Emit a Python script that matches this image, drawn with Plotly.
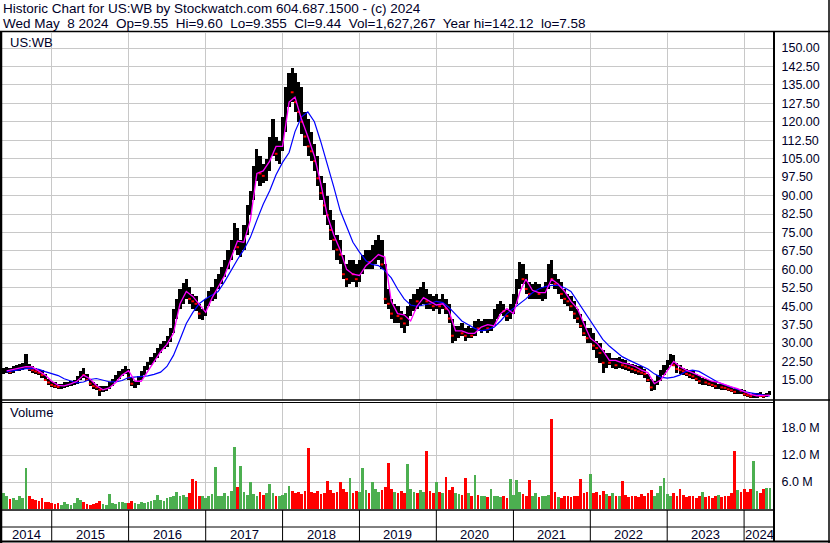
import pandas as pd
import plotly.graph_objects as go

# ---------------- data (semi-monthly periods, May 2014 - May 2024) ----------------
hi = [
    20.0, 20.3, 20.0, 20.5, 21.0, 21.5, 22.0, 25.5, 21.5, 20.5, 20.0, 19.5, 19.0, 17.5, 15.5,
    14.5, 14.0, 13.5, 13.5, 14.0, 14.0, 14.5, 15.0, 16.5, 18.5, 20.0, 17.5, 15.5, 14.0, 13.5, 12.5, 12.5, 12.5, 14.0, 15.5, 17.0, 18.5, 19.5, 20.5,
    19.5, 16.0, 14.5, 16.5, 18.5, 20.5, 22.5, 24.5, 26.0, 28.0, 29.5, 31.0, 33.0, 36.0, 44.0, 48.0, 52.0, 54.5, 56.0, 53.0, 50.0, 49.0, 46.0, 44.0,
    48, 51, 53, 56, 58, 61, 64, 68, 72, 79, 77, 72, 78, 86, 92, 102, 109, 106, 103, 105, 114, 121, 114, 112,
    122, 134, 140, 142, 140, 136, 134, 124, 121, 116, 111, 106, 98, 95, 90, 84, 80, 74, 72, 66, 62, 64, 64, 62,
    64, 66, 68, 68, 70, 72, 74, 72, 62, 52, 48, 46, 45, 43, 42, 45, 48, 50, 52, 53, 55, 52, 50, 49,
    50, 48, 50, 48, 46, 40, 37, 37, 38, 36, 37, 36, 39, 40, 39, 40, 40, 40, 44, 46, 47, 46, 44, 46,
    50, 56, 63, 62, 58, 55, 54, 55, 54, 53, 55, 62, 64, 58, 56, 55, 52, 50, 49, 47, 44, 42, 39, 36,
    36, 34, 31, 30, 27, 26, 26, 24, 24, 24.5, 23.5, 23, 22, 21.5, 21, 20.5, 20.5, 19.5, 17.5, 15.5, 14.5, 17, 19, 21,
    23, 25.5, 25, 22, 21, 20, 19.5, 19, 18.5, 17.5, 16.5, 16, 15.5, 15, 14.5, 14, 13.5, 13.5, 13, 12.5, 12, 11.5, 11.5, 11.5,
    11, 10, 9.5, 9.8, 9.8, 10, 9.5, 9.8, 10.5,
]
lo = [
    17.5, 17.8, 17.5, 18.0, 18.5, 18.5, 19.0, 19.5, 18.5, 18.0, 17.5, 17.0, 16.0, 14.5, 13.0,
    12.0, 11.8, 11.5, 11.5, 11.8, 12.0, 12.5, 13.0, 13.5, 15.0, 16.0, 14.5, 12.5, 11.5, 11.0, 8.5, 10.0, 10.5, 11.5, 12.5, 14.0, 15.5, 16.5, 17.5,
    15.0, 12.5, 11.8, 13.0, 15.0, 17.0, 19.0, 21.0, 22.5, 24.0, 26.0, 27.5, 28.5, 30.5, 34.0, 40.0, 44.0, 46.0, 48.0, 46.0, 44.0, 43.0, 40.0, 39.5,
    41, 45, 47, 48, 52, 54, 57, 60, 64, 68, 66, 65, 68, 74, 82, 88, 96, 94, 95, 96, 100, 106, 104, 103,
    108, 116, 126, 128, 124, 120, 115, 110, 106, 104, 100, 94, 88, 82, 78, 72, 68, 64, 62, 56, 53, 54, 55, 53,
    55, 58, 60, 60, 60, 62, 64, 60, 46, 44, 40, 38, 38, 36, 34, 37, 41, 43, 44, 45, 46, 44, 44, 43,
    44, 42, 44, 42, 38, 30, 31, 32, 33, 31, 32, 32, 33, 35, 34, 35, 34, 35, 37, 40, 42, 41, 39, 40,
    42, 46, 52, 54, 50, 48, 48, 48, 48, 47, 48, 52, 54, 52, 50, 48, 46, 45, 43, 40, 38, 36, 33, 30,
    30, 27, 24, 22, 18, 20, 21, 20, 19.5, 20, 19.5, 19, 18.5, 18, 17.5, 17, 17, 16, 14, 10.5, 11, 13, 14.5, 17,
    19, 21, 20.5, 18, 17.5, 17, 16.5, 16, 15.5, 14.5, 13.5, 13, 13, 12.5, 12, 11.5, 11.5, 11, 11, 10.5, 10, 9.5, 9.5, 9.5,
    8.5, 8.0, 7.6, 7.8, 7.8, 8.0, 7.8, 8.0, 8.8,
]
cl = [
    18.5, 19.0, 18.2, 19.5, 19.8, 20.0, 20.5, 21.0, 19.5, 19.0, 18.5, 18.0, 17.0, 15.0, 14.0,
    13.0, 12.5, 12.2, 12.5, 13.0, 13.2, 13.8, 14.2, 15.5, 17.5, 17.0, 15.0, 13.5, 12.5, 12.0, 11.0, 11.5, 11.8, 13.0, 14.5, 16.0, 17.5, 18.5, 19.0,
    16.0, 13.5, 13.5, 15.5, 17.5, 19.5, 21.5, 23.5, 25.0, 27.0, 28.5, 29.5, 31.5, 35.0, 42.0, 46.0, 49.0, 51.0, 52.0, 48.0, 47.0, 46.0, 42.0, 42.5,
    46, 49, 50, 54, 55, 59, 62, 66, 70, 74, 69, 70, 76, 84, 90, 100, 104, 99, 98, 101, 110, 112, 107, 108,
    118, 130, 136, 132, 128, 124, 120, 114, 110, 108, 104, 97, 91, 86, 82, 76, 72, 68, 66, 58, 56, 60, 58, 56,
    60, 62, 64, 63, 66, 68, 70, 62, 48, 46, 42, 42, 41, 40, 38, 43, 45, 48, 47, 50, 52, 47, 46, 45,
    47, 45, 46, 44, 40, 33, 34, 35, 34, 33, 34, 33, 37, 36, 37, 38, 36, 37, 42, 44, 45, 43, 41, 44,
    48, 54, 58, 56, 52, 50, 51, 52, 50, 50, 53, 58, 56, 54, 54, 50, 48, 47, 45, 42, 40, 37, 34, 32,
    33, 29, 28, 26, 22, 24, 22, 22, 21, 22, 21, 20.5, 20, 19.5, 19, 18.5, 18, 17.5, 15, 12, 13.5, 15.5, 18, 20,
    22, 23.5, 21, 19.5, 19, 18.5, 17.5, 17, 16.5, 15.5, 14.5, 14.5, 14, 13.5, 13, 12.5, 12.5, 12, 11.8, 11.2, 10.8, 10.2, 10.8, 10.5,
    9.2, 8.8, 8.4, 8.6, 9.0, 8.5, 8.4, 9.0, 9.44,
]
vol_m = [
    3.5, 2.8, 2.2, 2.5, 2.0, 3.0, 2.4, 9.2, 3.0, 2.2, 2.0, 1.8, 2.5, 1.6, 1.5,
    1.4, 1.2, 1.3, 1.0, 1.5, 1.2, 1.0, 1.3, 2.4, 2.0, 1.5, 1.2, 1.0, 1.1, 1.3, 1.8, 1.2, 1.0, 3.3, 1.4, 1.2, 1.5, 1.6, 1.3,
    1.4, 1.8, 1.3, 1.2, 1.5, 1.3, 1.6, 1.8, 2.0, 3.2, 2.0, 1.8, 2.4, 2.6, 3.0, 3.8, 2.8, 3.2, 2.6, 3.5, 6.6, 6.3, 3.0, 2.8,
    2.5, 3.0, 3.4, 9.4, 3.0, 2.8, 3.5, 2.8, 4.0, 13.8, 5.0, 9.6, 3.8, 3.2, 6.0, 3.4, 3.0, 3.8, 3.2, 3.5, 5.6, 3.6, 2.8, 3.0,
    3.2, 3.5, 5.2, 4.0, 3.5, 3.8, 3.4, 4.0, 13.6, 3.8, 3.6, 4.0, 3.4, 3.6, 6.3, 4.2, 3.5, 3.8, 5.9, 4.4, 3.8, 6.8, 3.6, 4.0,
    3.8, 9.1, 4.2, 3.6, 6.1, 4.5, 3.8, 4.2, 4.8, 10.3, 4.5, 3.8, 3.5, 4.0, 3.6, 10.0, 4.4, 3.8, 3.6, 4.2, 3.8, 12.9, 4.0, 3.6,
    5.9, 3.8, 3.5, 7.2, 4.2, 4.8, 3.6, 3.4, 3.2, 6.8, 3.5, 3.0, 7.6, 3.2, 2.8, 3.0, 2.6, 4.4, 2.8, 3.0, 2.6, 2.8, 2.5, 6.6,
    3.2, 6.5, 3.8, 3.4, 3.0, 6.5, 2.8, 3.5, 2.6, 2.8, 3.0, 3.2, 20.0, 3.8, 2.6, 2.5, 3.0, 2.8, 2.6, 3.0, 2.8, 6.6, 3.5, 3.8,
    7.7, 3.5, 3.8, 3.2, 4.0, 3.4, 3.0, 3.6, 2.8, 3.0, 6.2, 3.2, 2.6, 2.8, 3.0, 2.6, 3.4, 2.8, 3.5, 4.2, 3.0, 3.6, 5.2, 6.8,
    3.4, 3.0, 3.6, 2.8, 4.5, 3.2, 2.6, 2.8, 3.0, 2.5, 2.8, 3.8, 2.6, 3.0, 2.4, 2.8, 3.2, 2.6, 3.0, 2.8, 3.5, 12.9, 4.2, 3.8,
    4.5, 3.8, 4.4, 10.6, 4.0, 3.6, 4.4, 4.7, 4.7,
]
# monthly moving-average readings (1st of month, Jun 2014 - May 2024)
ma_short = [
    18.7, 19.2, 19.8, 20.4, 20.3, 18.8, 17.0,
    14.5, 12.8, 12.6, 13.4, 14.5, 17.0, 15.5, 12.8, 11.0, 11.8, 14.0, 17.0,
    18.8, 14.5, 14.5, 18.5, 22.5, 26.5, 29.5, 34.0, 46.0, 51.0, 49.0, 46.0,
    42.5, 48.5, 53.0, 57.5, 64.5, 71.5, 71.0, 80.0, 99.0, 100.0, 104.0, 110.0,
    110.0, 128.0, 130.0, 121.0, 114.0, 106.0, 95.0, 82.0, 74.0, 68.0, 60.0, 58.0,
    57.5, 61.5, 63.5, 66.0, 65.0, 47.0, 42.0, 41.5, 39.0, 45.0, 48.5, 47.0,
    45.5, 46.0, 43.0, 35.0, 35.0, 34.0, 34.0, 36.5, 37.5, 37.0, 42.0, 44.0,
    42.0, 51.0, 56.0, 51.5, 50.5, 50.5, 56.0, 54.0, 51.0, 47.0, 44.0, 38.0,
    32.0, 30.0, 27.0, 23.0, 23.0, 22.0, 21.5, 20.5, 19.0, 18.0, 13.5, 15.0,
    19.0, 22.5, 20.5, 19.0, 18.0, 16.8, 15.5, 14.5, 14.0, 13.0, 12.2, 11.5,
    10.5, 9.2, 8.6, 8.8, 8.8,
]
ma_long = [
    18.3, 18.8, 19.2, 19.6, 19.7, 19.3, 18.4,
    17.7, 16.8, 15.5, 14.5, 13.8, 14.2, 15.2, 15.6, 15.0, 14.3, 14.2, 14.8,
    16.0, 16.3, 16.4, 16.7, 17.3, 18.2, 20.5, 25.0, 31.5, 38.0, 42.5, 46.0,
    48.0, 49.5, 51.0, 55.0, 59.5, 64.0, 68.0, 73.0, 80.0, 86.5, 92.0, 98.5,
    103.5, 107.5, 116.0, 122.0, 124.0, 120.0, 112.0, 103.0, 93.5, 84.0, 77.0, 71.0,
    67.0, 63.5, 62.0, 61.5, 59.5, 56.5, 52.0, 48.0, 45.5, 45.0, 45.5, 46.0,
    47.0, 46.5, 44.5, 41.5, 39.0, 37.5, 36.0, 35.0, 35.5, 36.5, 39.0, 42.0,
    44.0, 46.0, 48.0, 50.5, 52.0, 53.0, 53.5, 53.5, 52.5, 51.0, 47.0, 43.0,
    39.0, 35.0, 31.5, 28.8, 26.5, 24.5, 23.2, 22.0, 20.8, 19.5, 17.5, 16.2,
    15.8, 16.2, 17.0, 18.5, 19.0, 18.5, 17.0, 15.5, 14.0, 13.0, 12.0, 11.2,
    10.3, 9.8, 9.3, 8.8, 8.4,
]
years = ["2014", "2015", "2016", "2017", "2018", "2019", "2020", "2021", "2022", "2023", "2024"]
price_ticks = [15.0, 22.5, 30.0, 37.5, 45.0, 52.5, 60.0, 67.5, 75.0, 82.5, 90.0, 97.5,
               105.0, 112.5, 120.0, 127.5, 135.0, 142.5, 150.0]
vol_ticks = [6, 12, 18]

# ---------------- derived positions ----------------
n = len(cl)
edges = pd.date_range("2014-05-10", "2024-05-10", periods=n + 1)
dates = edges[:-1] + (edges[1:] - edges[:-1]) / 2
ma_dates = pd.date_range("2014-06-01", "2024-05-01", freq="MS")
x0, x1 = pd.Timestamp("2014-05-10"), pd.Timestamp("2024-05-22")
bounds = [pd.Timestamp(f"{y}-01-01") for y in years[1:]]
seg_edges = [x0] + bounds + [x1]
year_mid = [seg_edges[k] + (seg_edges[k + 1] - seg_edges[k]) / 2 for k in range(len(years))]

W, H = 830, 543
px = lambda v: v / W
py = lambda v: 1 - v / H

bar_w = 15.2 * 86400000
vbar_w = 13.0 * 86400000
down = [i for i in range(n) if i > 0 and cl[i] < cl[i - 1]]
up_flag = [i == 0 or cl[i] >= cl[i - 1] for i in range(n)]
GREEN, RED = "#4caf50", "#ff0000"

fig = go.Figure()
fig.add_trace(go.Bar(x=dates, y=[h - l for h, l in zip(hi, lo)], base=lo, width=bar_w,
                     marker=dict(color="#000000", line=dict(width=0)), xaxis="x", yaxis="y",
                     hoverinfo="skip"))
fig.add_trace(go.Scatter(x=[dates[i] for i in down], y=[cl[i] for i in down], mode="markers",
                         marker=dict(symbol="line-ew", size=2, line=dict(color=RED, width=2)),
                         xaxis="x", yaxis="y", hoverinfo="skip"))
fig.add_trace(go.Scatter(x=ma_dates, y=ma_long, mode="lines", line=dict(color="#0000ff", width=1.2),
                         xaxis="x", yaxis="y", hoverinfo="skip"))
fig.add_trace(go.Scatter(x=ma_dates, y=ma_short, mode="lines", line=dict(color="#ff00ff", width=1.3),
                         xaxis="x", yaxis="y", hoverinfo="skip"))
fig.add_trace(go.Bar(x=dates, y=vol_m, width=vbar_w,
                     marker=dict(color=[GREEN if u else RED for u in up_flag], line=dict(width=0)),
                     xaxis="x2", yaxis="y2", hoverinfo="skip"))

FONT = "Liberation Sans, Arial, sans-serif"
TXT = "#000028"
grid = "#c8c8c8"
xdom = [px(2), px(774)]
common_x = dict(domain=xdom, range=[x0, x1], type="date", tickvals=bounds, showgrid=True,
                gridcolor=grid, gridwidth=1, showticklabels=False, ticks="", zeroline=False,
                showline=False)
fig.update_layout(
    width=W, height=H, margin=dict(l=0, r=0, t=0, b=0), showlegend=False,
    paper_bgcolor="white", plot_bgcolor="white", bargap=0,
    font=dict(family=FONT, color=TXT),
    xaxis=dict(anchor="y", **common_x),
    xaxis2=dict(anchor="y2", matches="x", **common_x),
    yaxis=dict(domain=[py(400), py(33)], range=[6.87, 156.1], side="right", anchor="x",
               tickvals=price_ticks, ticktext=[f"{v:.2f}" for v in price_ticks],
               showgrid=True, gridcolor=grid, gridwidth=1, zeroline=False, showline=False,
               ticks="outside", ticklen=4, tickcolor="rgba(0,0,0,0)",
               tickfont=dict(size=12.5, color=TXT, family=FONT)),
    yaxis2=dict(domain=[py(509), py(403)], range=[0, 106 / 4.5], side="right", anchor="x2",
                tickvals=vol_ticks, ticktext=[f"{v:.1f} M" for v in vol_ticks],
                showgrid=True, gridcolor=grid, gridwidth=1, zeroline=False, showline=False,
                ticks="outside", ticklen=4, tickcolor="rgba(0,0,0,0)",
                tickfont=dict(size=12.5, color=TXT, family=FONT)),
)

shapes = []
def hline(y, xa, xb, w=1):
    shapes.append(dict(type="line", xref="paper", yref="paper", x0=px(xa), x1=px(xb),
                       y0=py(y), y1=py(y), line=dict(color="black", width=w)))
def vline(x, ya, yb, w=1):
    shapes.append(dict(type="line", xref="paper", yref="paper", x0=px(x), x1=px(x),
                       y0=py(ya), y1=py(yb), line=dict(color="black", width=w)))

hline(31.5, 0, 830, 1.5)
vline(1, 31.5, 543, 2.5)
vline(774, 31.5, 542, 2)
vline(829, 0, 543, 1.5)
hline(400, 2, 830, 1.5)
hline(402.5, 2, 774, 1)
hline(510, 2, 774, 1.5)
hline(527, 2, 774, 1)
hline(541.5, 0, 830, 2)
for b in bounds:
    shapes.append(dict(type="line", xref="x", yref="paper", x0=b, x1=b, y0=py(541), y1=py(510),
                       line=dict(color="black", width=1)))
fig.update_layout(shapes=shapes)

ann = [
    dict(text="Historic Chart for US:WB by Stockwatch.com 604.687.1500 - (c) 2024",
         x=px(1), y=py(9), font=dict(size=13.5)),
    dict(text="Wed May  8 2024  Op=9.55  Hi=9.60  Lo=9.355  Cl=9.44  Vol=1,627,267  Year hi=142.12  lo=7.58",
         x=px(1), y=py(23), font=dict(size=13.5)),
    dict(text="US:WB", x=px(8), y=py(42), font=dict(size=13)),
    dict(text="Volume", x=px(8), y=py(413), font=dict(size=13)),
]
annotations = []
for a in ann:
    annotations.append(dict(xref="paper", yref="paper", xanchor="left", yanchor="middle",
                            showarrow=False, text=a["text"].replace("  ", "&nbsp; "), x=a["x"], y=a["y"],
                            font=dict(family=FONT, color=TXT, size=a["font"]["size"])))
for yl, xm in zip(years, year_mid):
    annotations.append(dict(xref="x", yref="paper", x=xm, y=py(534), text=yl, showarrow=False,
                            xanchor="center", yanchor="middle",
                            font=dict(family=FONT, color=TXT, size=13)))
fig.update_layout(annotations=annotations)

fig.write_html("out.html", config={"displayModeBar": False},
               post_script="document.body.style.margin='0';document.body.style.overflow='hidden';")
